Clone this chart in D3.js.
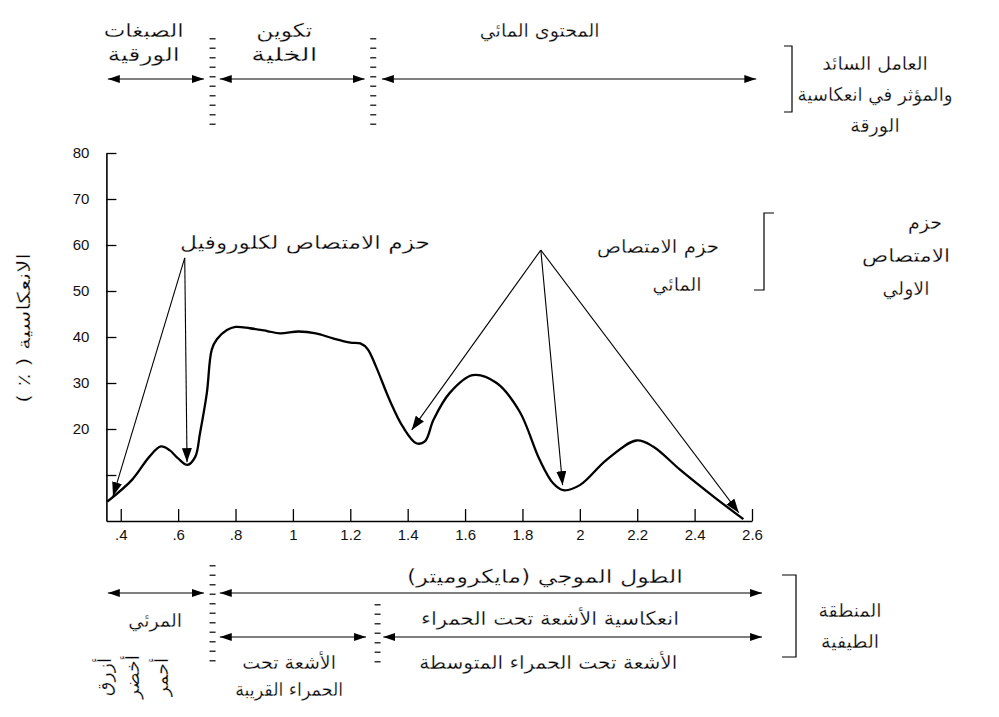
<!DOCTYPE html>
<html>
<head>
<meta charset="utf-8">
<script src="https://cdn.jsdelivr.net/npm/d3@7"></script>
<style>
  body { margin: 0; background: #fff; }
  svg { display: block; }
  .ar { font-family: "DejaVu Sans", sans-serif; fill: #000; stroke: #fff; stroke-width: 0.3px; }
  .tick text { font-family: "Liberation Sans", Arial, sans-serif; font-size: 15px; fill: #111; }
</style>
</head>
<body>
<svg id="chart" width="999" height="717"></svg>
<script>
// Typical spectral reflectance of a green leaf
const wavelength = [0.353, 0.44, 0.50, 0.54, 0.57, 0.60, 0.632, 0.66, 0.676, 0.70, 0.717, 0.735,
  0.77, 0.80, 0.85, 0.91, 0.955, 1.02, 1.08, 1.14, 1.20, 1.235, 1.26, 1.29, 1.337, 1.383,
  1.43, 1.46, 1.49, 1.546, 1.627, 1.71, 1.79, 1.86, 1.907, 1.942, 2.0, 2.093, 2.197, 2.255,
  2.35, 2.466, 2.57];
const reflectance = [4.2, 9, 14, 16.2, 15.4, 13.6, 12.2, 14, 19, 27.8, 37.2, 39.5,
  41.5, 42.2, 41.9, 41.3, 40.8, 41.2, 40.8, 39.7, 38.8, 38.6, 37.4, 33.5, 26.3, 20.5,
  16.9, 17.3, 22, 27.8, 31.7, 30, 23.8, 13.3, 8.2, 6.7, 7.8, 13.3, 17.5, 16.2,
  11.1, 5.3, 0.4];

const xTicks = [0.4, 0.6, 0.8, 1.0, 1.2, 1.4, 1.6, 1.8, 2.0, 2.2, 2.4, 2.6];
const xTickLabels = [".4", ".6", ".8", "1", "1.2", "1.4", "1.6", "1.8", "2", "2.2", "2.4", "2.6"];
const yTicks = [10, 20, 30, 40, 50, 60, 70, 80];
const yTickLabels = ["", "20", "30", "40", "50", "60", "70", "80"];

// Dominant factor controlling leaf reflectance (wavelength spans, µm)
const factorNames = [["الصبغات", "الورقية"], ["تكوين", "الخلية"], ["المحتوى المائي"]];
const factorFrom = [0.355, 0.745, 1.31];
const factorTo = [0.69, 1.25, 2.615];
const factorLabelAt = [0.48, 0.97, 1.86];
const factorDividers = [0.72, 1.28];

// Spectral regions
const regionNames = [["المرئي"], ["الأشعة تحت", "الحمراء القريبة"], ["الأشعة تحت الحمراء المتوسطة"]];
const regionFrom = [0.355, 0.745, 1.315];
const regionTo = [0.69, 1.255, 2.635];
const regionLabelAt = [0.52, 0.98, 1.89];
const wavelengthSpan = [0.745, 2.635];

// Absorption band pointers: [source wavelength, source %, target wavelength, target %]
const chlorophyllArrows = [[0.623, 57.2, 0.373, 5.4], [0.623, 57.2, 0.631, 12.8]];
const waterArrows = [[1.864, 58.9, 1.414, 19.8], [1.864, 58.9, 1.94, 7.8], [1.864, 58.9, 2.554, 1.8]];

const colorNames = ["أزرق", "أخضر", "أحمر"];
const colorAt = [0.34, 0.44, 0.54];

const svg = d3.select("#chart");
const x = d3.scaleLinear().domain([0.35, 2.6]).range([106.4, 752]);
const y = d3.scaleLinear().domain([0, 80]).range([521, 153]);

// Arrowhead markers
const defs = svg.append("defs");
defs.append("marker").attr("id", "head").attr("viewBox", "0 0 12 8")
  .attr("refX", 12).attr("refY", 4).attr("markerWidth", 12).attr("markerHeight", 8)
  .attr("markerUnits", "userSpaceOnUse").attr("orient", "auto-start-reverse")
  .append("path").attr("d", "M0,0 L12,4 L0,8 Z").attr("fill", "#000");
defs.append("marker").attr("id", "bhead").attr("viewBox", "0 0 14 10")
  .attr("refX", 14).attr("refY", 5).attr("markerWidth", 14).attr("markerHeight", 10)
  .attr("markerUnits", "userSpaceOnUse").attr("orient", "auto-start-reverse")
  .append("path").attr("d", "M0,0 L14,5 L0,10 Z").attr("fill", "#000");

// Axes
const xAxis = d3.axisBottom(x).tickValues(xTicks)
  .tickFormat((d, i) => xTickLabels[i]).tickSizeInner(-12).tickSizeOuter(0).tickPadding(8);
const gx = svg.append("g").attr("transform", `translate(0,${y(0)})`).call(xAxis);
gx.select(".domain").attr("stroke", "#000").attr("stroke-width", 1.6);
gx.selectAll(".tick line").attr("stroke", "#000").attr("stroke-width", 1.3);

const yAxis = d3.axisLeft(y).tickValues(yTicks)
  .tickFormat((d, i) => yTickLabels[i]).tickSizeInner(-10).tickSizeOuter(0).tickPadding(17);
const gy = svg.append("g").attr("transform", `translate(${x(0.35)},0)`).call(yAxis);
gy.select(".domain").attr("stroke", "#000").attr("stroke-width", 1.6);
gy.selectAll(".tick line").attr("stroke", "#000").attr("stroke-width", 1.3);

svg.append("text").attr("class", "ar")
  .attr("transform", "translate(30,328) rotate(-90)")
  .attr("direction", "rtl")
  .attr("text-anchor", "middle").attr("font-size", 18)
  .attr("textLength", 150).attr("lengthAdjust", "spacingAndGlyphs")
  .text("الانعكاسية ( ٪ )");

// Reflectance curve
const line = d3.line().x((d, i) => x(wavelength[i])).y(d => y(d))
  .curve(d3.curveCatmullRom.alpha(0.5));
svg.append("path").datum(reflectance).attr("d", line)
  .attr("fill", "none").attr("stroke", "#000").attr("stroke-width", 2.3)
  .attr("stroke-linejoin", "round");

// Absorption pointers
const pointers = chlorophyllArrows.concat(waterArrows);
svg.append("g").selectAll("line").data(pointers).join("line")
  .attr("x1", d => x(d[0])).attr("y1", d => y(d[1]))
  .attr("x2", d => x(d[2])).attr("y2", d => y(d[3]))
  .attr("stroke", "#000").attr("stroke-width", 1.1)
  .attr("marker-end", "url(#bhead)");

function label(lines, cx, cy, size, lh, widths) {
  const t = svg.append("text").attr("class", "ar").attr("text-anchor", "middle")
    .attr("font-size", size);
  lines.forEach((s, i) => {
    const ts = t.append("tspan").attr("x", cx).attr("y", cy + i * lh).text(s);
    if (widths && widths[i]) ts.attr("textLength", widths[i]).attr("lengthAdjust", "spacingAndGlyphs");
  });
}

label(["حزم الامتصاص لكلوروفيل"], 305, 249, 19, 0, [250]);
label(["حزم الامتصاص"], 658, 253, 19, 0, [122]);
label(["المائي"], 677, 291, 19, 0);

function bracket(xv, y0, y1, topDir, botDir) {
  const p = d3.path();
  p.moveTo(xv + topDir, y0); p.lineTo(xv, y0); p.lineTo(xv, y1); p.lineTo(xv + botDir, y1);
  svg.append("path").attr("d", p.toString()).attr("fill", "none")
    .attr("stroke", "#000").attr("stroke-width", 1.2);
}
bracket(764, 213, 290, 10, -10);
label(["حزم"], 925, 229, 19, 0);
label(["الامتصاص", "الاولي"], 906, 262, 19, 33, [88, null]);

// Dashed dividers
function divider(wl, y0, y1) {
  svg.append("line").attr("x1", x(wl)).attr("x2", x(wl)).attr("y1", y0).attr("y2", y1)
    .attr("stroke", "#333").attr("stroke-width", 6).attr("stroke-dasharray", "1.5,8");
}

function doubleArrow(a, b, yy) {
  svg.append("line").attr("x1", x(a)).attr("x2", x(b)).attr("y1", yy).attr("y2", yy)
    .attr("stroke", "#000").attr("stroke-width", 1.1)
    .attr("marker-start", "url(#head)").attr("marker-end", "url(#head)");
}

// Header: dominant factor
const factorWidths = [[80, 72], [56, 66], [null]];
factorDividers.forEach(wl => divider(wl, 38, 132));
factorNames.forEach((n, i) => {
  doubleArrow(factorFrom[i], factorTo[i], 79);
  label(n, x(factorLabelAt[i]), 37, 19, 24, factorWidths[i]);
});
bracket(792, 46, 112, -8, -8);
label(["العامل السائد", "والمؤثر في انعكاسية", "الورقة"], 875, 70, 19, 31, [null, 155, null]);

// Footer: spectral region
divider(0.72, 565, 666);
divider(1.295, 604, 666);
doubleArrow(regionFrom[0], regionTo[0], 593);
doubleArrow(wavelengthSpan[0], wavelengthSpan[1], 593);
doubleArrow(regionFrom[1], regionTo[1], 637);
doubleArrow(regionFrom[2], regionTo[2], 637);
label(["الطول الموجي (مايكروميتر)"], 545, 583, 19, 0, [276]);
label(["انعكاسية الأشعة تحت الحمراء"], 550, 625, 19, 0, [258]);
label(regionNames[0], x(regionLabelAt[0]), 627, 19, 0);
label(regionNames[1], x(regionLabelAt[1]) + 2, 669, 19, 27, [null, 108]);
label(regionNames[2], x(regionLabelAt[2]), 669, 19, 0, [258]);
bracket(796, 575, 657, -14, -14);
label(["المنطقة", "الطيفية"], 850, 617, 19, 31);

colorNames.forEach((c, i) => {
  svg.append("text").attr("class", "ar").attr("text-anchor", "middle").attr("font-size", 19)
    .attr("transform", `translate(${x(colorAt[i]) + 7},677) rotate(-90)`).text(c);
});
</script>
</body>
</html>
